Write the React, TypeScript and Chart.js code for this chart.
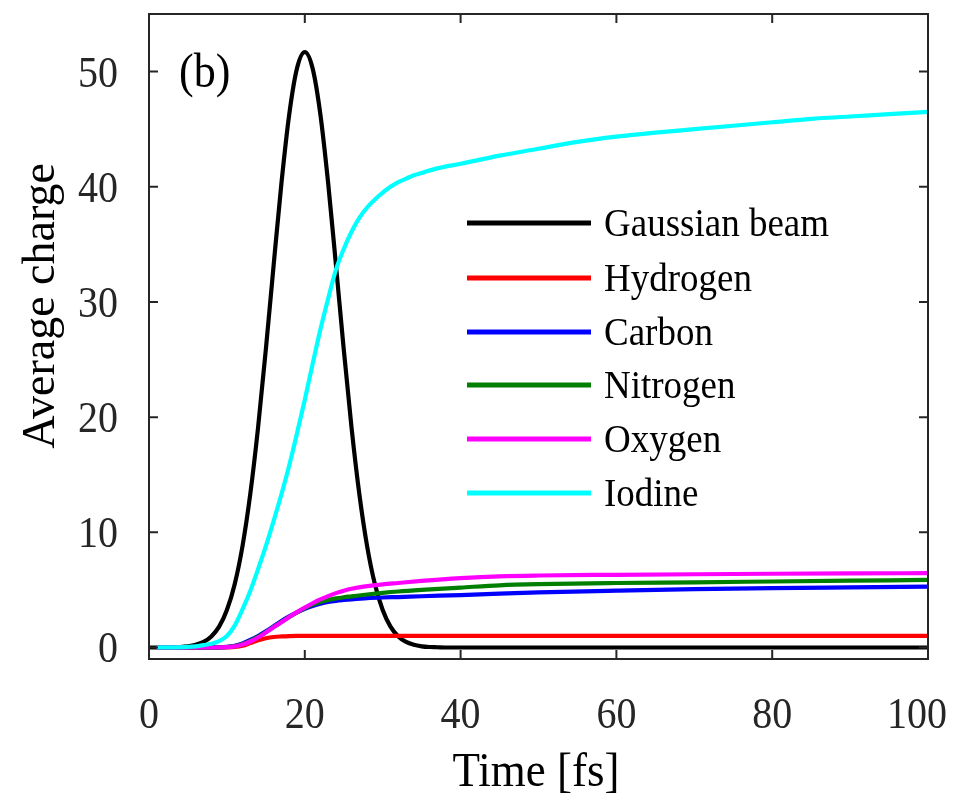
import React, { useEffect, useRef } from "react";
import { Chart, registerables } from "chart.js";

Chart.register(...registerables);

// ---------- data ----------
const gaussTime = [0, 1, 2, 3, 4, 5, 6, 7, 8, 9, 10, 11, 12, 13, 14, 15, 16, 17, 18, 19, 20,
  21, 22, 23, 24, 25, 26, 27, 28, 29, 30, 31, 32, 33, 34, 35, 36, 37, 38, 40, 100];
const gaussian = [0, 0, 0, 0.02, 0.04, 0.1, 0.23, 0.48, 0.96, 1.81, 3.25, 5.49, 8.79, 13.32, 19.09, 25.88, 33.2, 40.3, 46.28, 50.29, 51.7,
  50.29, 46.28, 40.3, 33.2, 25.88, 19.09, 13.32, 8.79, 5.49, 3.25, 1.81, 0.96, 0.48, 0.23, 0.1, 0.04, 0.02, 0, 0, 0];

const ionTime = [1, 8, 9, 10, 11, 12, 13, 14, 15, 16, 17, 18, 19, 20, 21, 22, 23, 24, 25, 26, 28, 30, 32, 35, 40, 45, 50, 60, 70, 80, 90, 100];
const hydrogen = [0, 0, 0, 0.01, 0.04, 0.15, 0.38, 0.62, 0.8, 0.91, 0.96, 0.99, 1.0, 1.0, 1.0, 1.0, 1.0, 1.0, 1.0, 1.0, 1.0, 1.0, 1.0, 1.0, 1.0, 1.0, 1.0, 1.0, 1.0, 1.0, 1.0, 1.0];
const carbon = [0, 0, 0.01, 0.05, 0.15, 0.35, 0.65, 1.0, 1.4, 1.85, 2.3, 2.7, 3.05, 3.35, 3.6, 3.8, 3.95, 4.05, 4.12, 4.18, 4.28, 4.34, 4.38, 4.45, 4.55, 4.68, 4.78, 4.93, 5.06, 5.15, 5.22, 5.29];
const nitrogen = [0, 0, 0.01, 0.04, 0.12, 0.3, 0.58, 0.92, 1.32, 1.77, 2.22, 2.65, 3.05, 3.42, 3.72, 3.95, 4.12, 4.26, 4.36, 4.44, 4.6, 4.74, 4.86, 5.0, 5.2, 5.4, 5.5, 5.6, 5.66, 5.73, 5.8, 5.87];
const oxygen = [0, 0, 0.01, 0.03, 0.1, 0.25, 0.52, 0.87, 1.3, 1.75, 2.2, 2.65, 3.07, 3.47, 3.84, 4.17, 4.46, 4.72, 4.93, 5.1, 5.33, 5.48, 5.6, 5.78, 6.02, 6.18, 6.25, 6.31, 6.36, 6.4, 6.43, 6.45];

const iodineTime = [1, 3, 5, 6, 7, 8, 9, 10, 11, 12, 13, 14, 15, 16, 17, 18, 19, 20, 21, 22, 23, 24, 25, 26, 27, 28, 29, 30,
  31, 32, 33, 34, 35, 37, 40, 45, 50, 55, 60, 65, 70, 75, 80, 85, 90, 95, 100];
const iodine = [0, 0.01, 0.05, 0.1, 0.2, 0.33, 0.55, 1.0, 1.9, 3.3, 4.9, 6.8, 8.8, 11.0, 13.3, 15.8, 18.6, 21.5, 24.6, 27.6, 30.3, 32.8, 34.6, 36.1, 37.3, 38.2, 38.9, 39.5,
  40.0, 40.4, 40.7, 41.0, 41.2, 41.6, 42.0, 42.7, 43.3, 43.9, 44.35, 44.7, 45.0, 45.3, 45.6, 45.9, 46.1, 46.3, 46.5];

const seriesLabels = ["Gaussian beam", "Hydrogen", "Carbon", "Nitrogen", "Oxygen", "Iodine"];
const seriesColors = ["#000000", "#FF0000", "#0000FF", "#007F00", "#FF00FF", "#00FFFF"];

const xTicks = [0, 20, 40, 60, 80, 100];
const yTicks = [0, 10, 20, 30, 40, 50];
const xTitle = "Time [fs]";
const yTitle = "Average charge";
const panelLabel = "(b)";

const FONT = "'Liberation Serif', 'Times New Roman', serif";
const AXIS_COLOR = "#262626";
const STRETCH = 1.1; // reference text is slightly taller than wide

function pts(t: number[], v: number[]) {
  return t.map((x, i) => ({ x, y: v[i] }));
}

function drawText(ctx: CanvasRenderingContext2D, text: string, x: number, y: number, size: number, align: CanvasTextAlign, color: string) {
  ctx.save();
  ctx.translate(x, y);
  ctx.scale(1, STRETCH);
  ctx.font = `${size}px ${FONT}`;
  ctx.fillStyle = color;
  ctx.textAlign = align;
  ctx.textBaseline = "alphabetic";
  ctx.fillText(text, 0, 0);
  ctx.restore();
}

const decorPlugin = {
  id: "decor",
  afterDatasetsDraw(chart: any) {
    const { ctx, chartArea } = chart;
    const { left, right, top, bottom } = chartArea;
    const xs = chart.scales.x;
    const ys = chart.scales.y;
    ctx.save();
    // frame
    ctx.strokeStyle = AXIS_COLOR;
    ctx.lineWidth = 2;
    ctx.strokeRect(left, top, right - left, bottom - top);
    // inward ticks
    const tl = 9;
    ctx.beginPath();
    xTicks.forEach((v) => {
      const px = xs.getPixelForValue(v);
      ctx.moveTo(px, bottom);
      ctx.lineTo(px, bottom - tl);
      ctx.moveTo(px, top);
      ctx.lineTo(px, top + tl);
    });
    yTicks.forEach((v) => {
      const py = ys.getPixelForValue(v);
      ctx.moveTo(left, py);
      ctx.lineTo(left + tl, py);
      ctx.moveTo(right, py);
      ctx.lineTo(right - tl, py);
    });
    ctx.stroke();

    // tick labels
    xTicks.forEach((v, i) => {
      const px = xs.getPixelForValue(v);
      if (i === xTicks.length - 1) drawText(ctx, String(v), 947, 728, 40, "right", AXIS_COLOR);
      else drawText(ctx, String(v), px, 728, 40, "center", AXIS_COLOR);
    });
    yTicks.forEach((v) => {
      const py = ys.getPixelForValue(v);
      drawText(ctx, String(v), 118, py + 15, 40, "right", AXIS_COLOR);
    });

    // panel label
    drawText(ctx, panelLabel, 179, 87, 44, "left", "#000");

    // legend
    const rows = [223, 278, 332, 385, 439, 493];
    chart.data.datasets.forEach((ds: any, i: number) => {
      const y = rows[i];
      ctx.strokeStyle = ds.borderColor;
      ctx.lineWidth = 5;
      ctx.beginPath();
      ctx.moveTo(467, y);
      ctx.lineTo(591, y);
      ctx.stroke();
      drawText(ctx, ds.label, 604, y + 13, 37, "left", "#000");
    });

    // axis titles
    drawText(ctx, xTitle, 536, 786, 45, "center", "#000");
    ctx.save();
    ctx.translate(54, 306);
    ctx.rotate(-Math.PI / 2);
    ctx.font = `46px ${FONT}`;
    ctx.fillStyle = "#000";
    ctx.textAlign = "center";
    ctx.textBaseline = "alphabetic";
    ctx.fillText(yTitle, 0, 0);
    ctx.restore();
    ctx.restore();
  },
};

export default function App() {
  const ref = useRef<HTMLCanvasElement | null>(null);
  useEffect(() => {
    if (!ref.current) return;
    const allData = [
      pts(gaussTime, gaussian),
      pts(ionTime, hydrogen),
      pts(ionTime, carbon),
      pts(ionTime, nitrogen),
      pts(ionTime, oxygen),
      pts(iodineTime, iodine),
    ];
    const chart = new Chart(ref.current, {
      type: "line",
      data: {
        datasets: allData.map((d, i) => ({
          label: seriesLabels[i],
          data: d,
          borderColor: seriesColors[i],
          backgroundColor: seriesColors[i],
          borderWidth: 4.2,
          pointRadius: 0,
          fill: false,
          cubicInterpolationMode: "monotone" as const,
          order: 6 - i,
        })),
      },
      options: {
        responsive: false,
        animation: false,
        layout: { padding: { left: 149, top: 14, right: 27, bottom: 138 } },
        plugins: { legend: { display: false }, tooltip: { enabled: false }, title: { display: false } },
        scales: {
          x: { type: "linear", display: false, min: 0, max: 100 },
          y: { type: "linear", display: false, min: -1, max: 55 },
        },
      },
      plugins: [decorPlugin],
    });
    return () => chart.destroy();
  }, []);
  return (
    <div style={{ position: "absolute", left: 0, top: 0, width: 955, height: 797, background: "#fff" }}>
      <canvas ref={ref} width={955} height={797} style={{ display: "block" }} />
    </div>
  );
}
